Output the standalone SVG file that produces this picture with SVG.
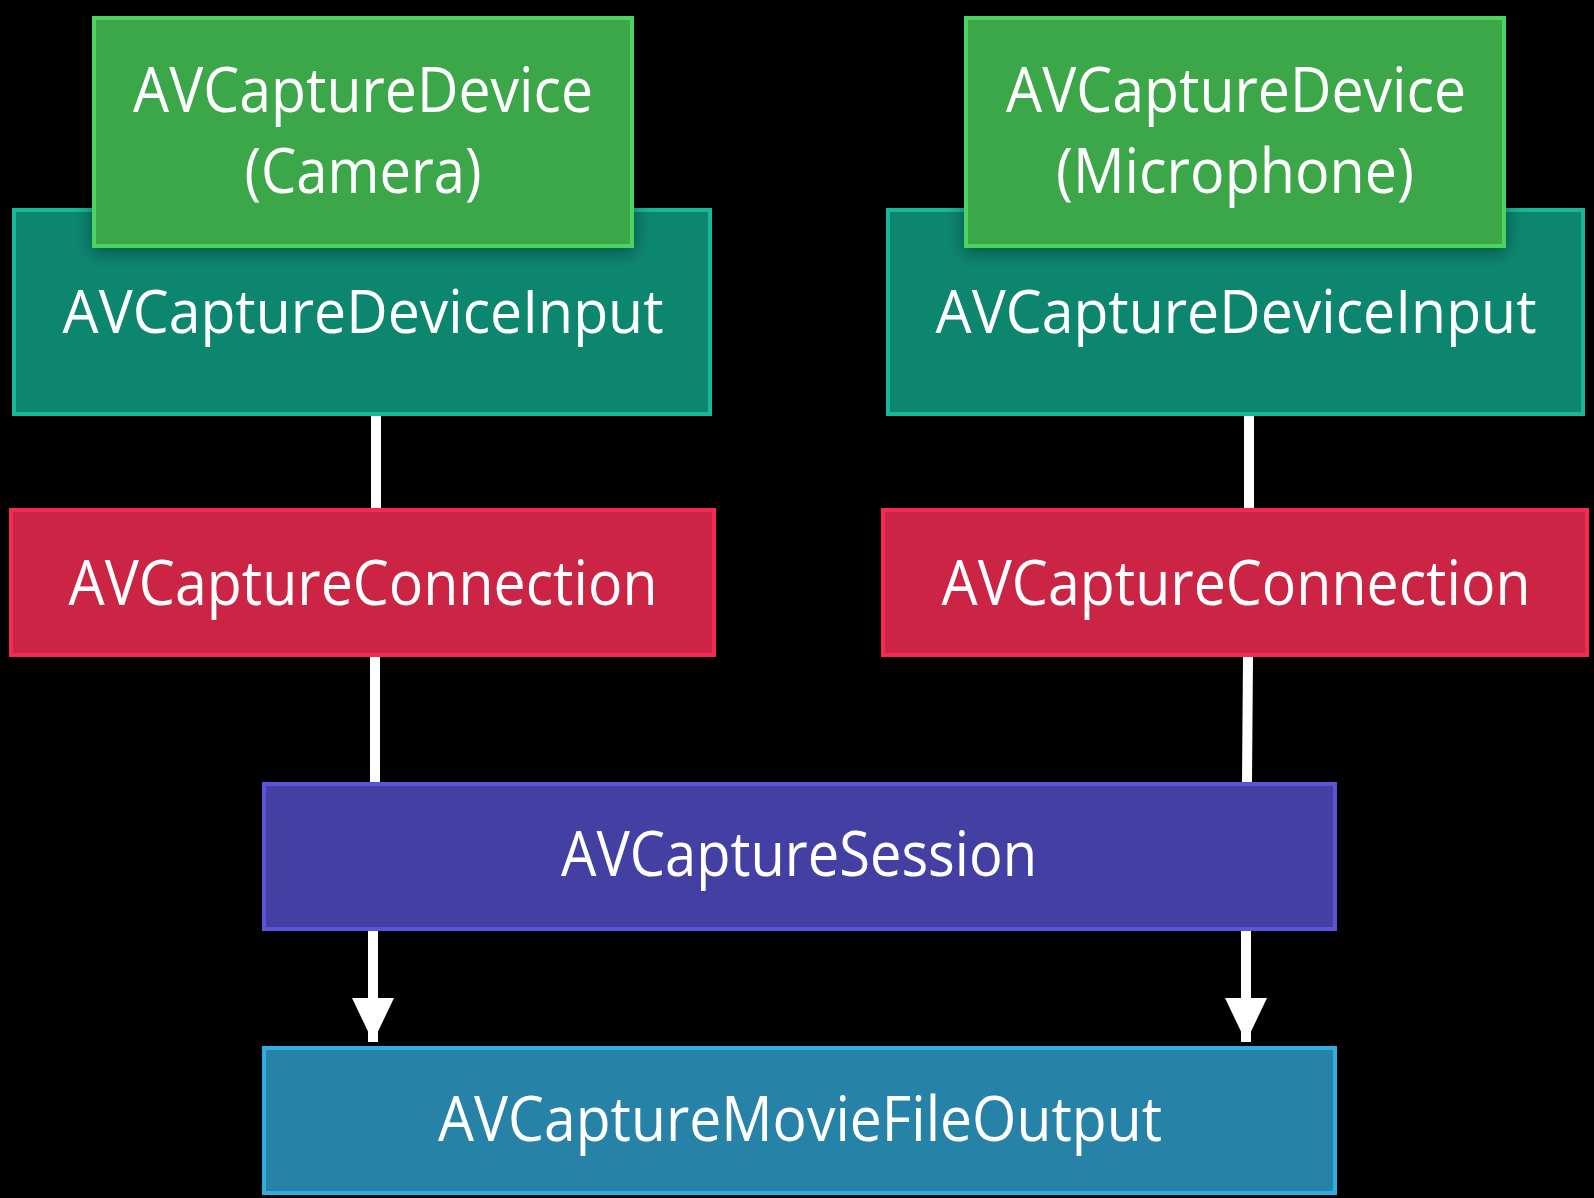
<svg xmlns="http://www.w3.org/2000/svg" width="1594" height="1198" viewBox="0 0 1594 1198">
<style>
.lbl{font-family:"Open Sans","Noto Sans","Liberation Sans",sans-serif;font-size:63px;fill:#ffffff;text-anchor:middle}
.sm{font-size:61px}
.dev{fill:#3ba74a;stroke:#4cd45e;stroke-width:4}
.inp{fill:#0d8670;stroke:#17b899;stroke-width:4}
.con{fill:#cc2445;stroke:#f42a51;stroke-width:4}
.ses{fill:#4440a3;stroke:#5a55d8;stroke-width:4}
.out{fill:#2782a8;stroke:#30aee0;stroke-width:4}
.edge{stroke:#ffffff;stroke-width:10;fill:none}
</style>
<defs>
<marker id="arr" viewBox="0 0 44 42" refX="44" refY="21" markerWidth="44" markerHeight="42" orient="auto" markerUnits="userSpaceOnUse">
<path d="M0,0 L44,21 L0,42 Z" fill="#ffffff"/>
</marker>
<filter id="sh" x="-10%" y="-10%" width="120%" height="130%">
<feDropShadow dx="0" dy="4" stdDeviation="9" flood-color="#000" flood-opacity="0.4"/>
</filter>
</defs>
<rect width="1594" height="1198" fill="#000000"/>
<g id="connectors">
<line class="edge" x1="376" y1="416" x2="376" y2="508"/>
<line class="edge" x1="375" y1="657" x2="375" y2="782"/>
<line class="edge" x1="373" y1="931" x2="373" y2="1042" marker-end="url(#arr)"/>
<line class="edge" x1="1249" y1="416" x2="1249" y2="508"/>
<line class="edge" x1="1248" y1="657" x2="1247" y2="782"/>
<line class="edge" x1="1246" y1="931" x2="1246" y2="1042" marker-end="url(#arr)"/>
</g>
<g id="input-camera">
<rect class="inp" x="14" y="210" width="696" height="204"/>
<text class="lbl sm" x="363" y="333" textLength="601" lengthAdjust="spacingAndGlyphs">AVCaptureDeviceInput</text>
</g>
<g id="device-camera" filter="url(#sh)">
<rect class="dev" x="94" y="18" width="538" height="228"/>
<text class="lbl" x="363" y="112" textLength="460" lengthAdjust="spacingAndGlyphs">AVCaptureDevice</text>
<text class="lbl" x="363" y="193" textLength="237" lengthAdjust="spacingAndGlyphs">(Camera)</text>
</g>
<g id="input-mic">
<rect class="inp" x="888" y="210" width="695" height="204"/>
<text class="lbl sm" x="1236" y="333" textLength="601" lengthAdjust="spacingAndGlyphs">AVCaptureDeviceInput</text>
</g>
<g id="device-mic" filter="url(#sh)">
<rect class="dev" x="966" y="18" width="538" height="228"/>
<text class="lbl" x="1236" y="112" textLength="460" lengthAdjust="spacingAndGlyphs">AVCaptureDevice</text>
<text class="lbl" x="1235" y="193" textLength="358" lengthAdjust="spacingAndGlyphs">(Microphone)</text>
</g>
<g id="connection-camera">
<rect class="con" x="11" y="510" width="703" height="145"/>
<text class="lbl" x="363" y="605" textLength="589" lengthAdjust="spacingAndGlyphs">AVCaptureConnection</text>
</g>
<g id="connection-mic">
<rect class="con" x="883" y="510" width="704" height="145"/>
<text class="lbl" x="1236" y="605" textLength="589" lengthAdjust="spacingAndGlyphs">AVCaptureConnection</text>
</g>
<g id="session">
<rect class="ses" x="264" y="784" width="1071" height="145"/>
<text class="lbl" x="799" y="876" textLength="476" lengthAdjust="spacingAndGlyphs">AVCaptureSession</text>
</g>
<g id="output">
<rect class="out" x="264" y="1048" width="1071" height="145"/>
<text class="lbl" x="800" y="1141" textLength="724" lengthAdjust="spacingAndGlyphs">AVCaptureMovieFileOutput</text>
</g>
</svg>
